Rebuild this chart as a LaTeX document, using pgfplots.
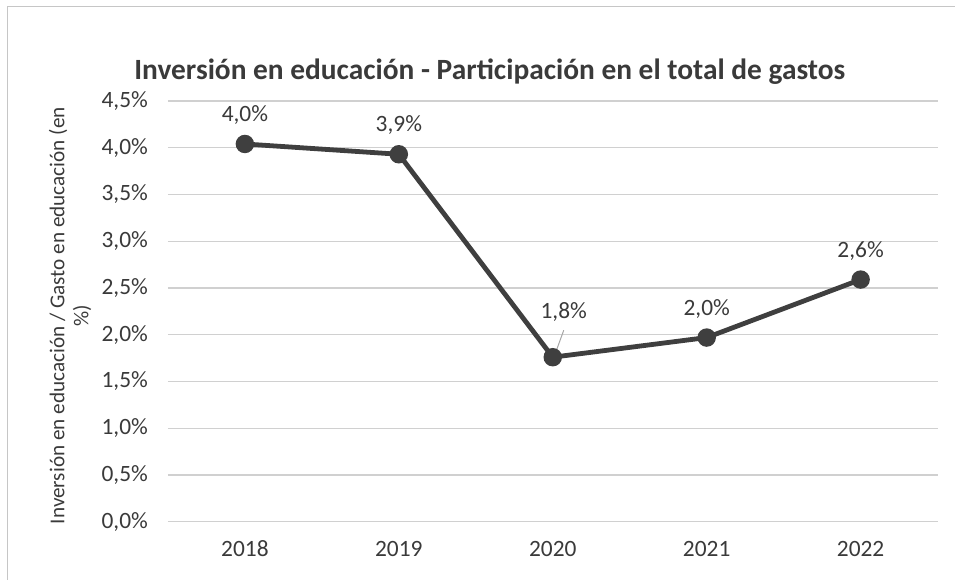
\documentclass[border=0pt]{standalone}
\usepackage{pgfplots}
\usepackage{pgfplotstable}
\pgfplotsset{compat=1.18}
\usepackage{fontspec}
\setmainfont{Carlito}
\definecolor{txt}{HTML}{3A3A3A}
\definecolor{ln}{HTML}{3F3F3F}
\definecolor{grd}{HTML}{D0D0D0}
\pgfplotstableread{
x y lab
0 4.04 {4,0\%}
1 3.93 {3,9\%}
2 1.76 {1,8\%}
3 1.97 {2,0\%}
4 2.59 {2,6\%}
}\datatable
\begin{document}
\begin{tikzpicture}
\path (0,0) rectangle (477.5pt,290pt);
\draw[gray!45, line width=0.4pt] (3.5pt,0) -- (3.5pt,287pt) -- (477.5pt,287pt);
\node[font=\fontsize{14.7}{17}\selectfont\bfseries, text=txt] at (245pt,254pt) {Inversión en educación - Participación en el total de gastos};
\begin{axis}[
  at={(84pt,29pt)}, anchor=south west,
  scale only axis, width=385pt, height=210.5pt,
  xmin=-0.5, xmax=4.5, ymin=0, ymax=4.5,
  xtick={0,1,2,3,4},
  xticklabels={2018,2019,2020,2021,2022},
  ytick={0,0.5,1,1.5,2,2.5,3,3.5,4,4.5},
  yticklabels={{0,0\%},{0,5\%},{1,0\%},{1,5\%},{2,0\%},{2,5\%},{3,0\%},{3,5\%},{4,0\%},{4,5\%}},
  axis line style={draw=none},
  major tick length=0pt,
  ymajorgrids, grid style={grd, line width=0.6pt},
  tick label style={font=\fontsize{11.7}{14}\selectfont, text=txt},
  yticklabel style={xshift=-6.5pt},
  xticklabel style={yshift=-6pt},
  ylabel={Inversión en educación / Gasto en educación (en\\[-1pt]\%)},
  ylabel style={font=\fontsize{10.6}{13}\selectfont, text=txt, align=center, at={(axis description cs:-0.127,0.49)}, anchor=center},
  clip=false,
]
\addplot[ln, line width=2.4pt, mark=*, mark size=3.4pt, mark options={fill=ln, draw=ln}] table[x=x, y=y] {\datatable};
\addplot[draw=none, mark=none, point meta=explicit symbolic, nodes near coords,
  nodes near coords style={anchor=center, yshift=14.5pt, font=\fontsize{11.7}{14}\selectfont, text=txt},
  skip coords between index={2}{3}] table[x=x, y=y, meta=lab] {\datatable};
\addplot[draw=none, mark=none, point meta=explicit symbolic, nodes near coords,
  nodes near coords style={anchor=center, xshift=5.5pt, yshift=22.5pt, font=\fontsize{11.7}{14}\selectfont, text=txt},
  skip coords between index={0}{2}, skip coords between index={3}{5}] table[x=x, y=y, meta=lab] {\datatable};
\draw[gray!70, line width=0.5pt] ([shift={(1.5pt,2.5pt)}]axis cs:2,1.76) -- ([shift={(5.5pt,13.5pt)}]axis cs:2,1.76);
\end{axis}
\end{tikzpicture}
\end{document}
